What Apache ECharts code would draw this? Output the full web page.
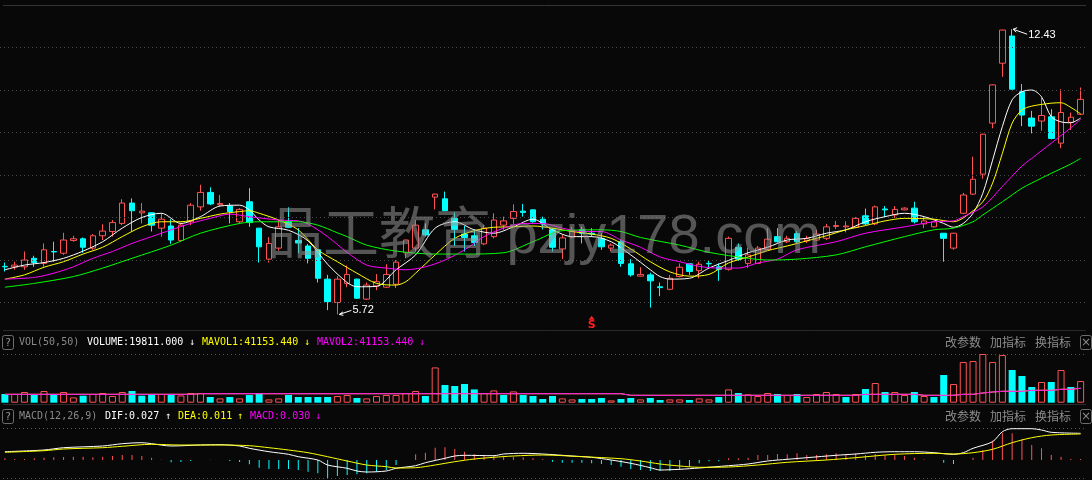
<!DOCTYPE html>
<html><head><meta charset="utf-8">
<script src="https://cdn.jsdelivr.net/npm/echarts@6/dist/echarts.min.js"></script>
<style>html,body{margin:0;padding:0;background:#080808;overflow:hidden}#c{width:1092px;height:480px}</style>
</head><body><div id="c"></div>
<script>
// ---------- data ----------
const open = [6.85,6.84,6.84,7.04,6.92,7.20,7.16,7.46,7.50,7.28,
7.57,7.67,7.86,8.34,8.11,8.11,7.75,7.80,7.46,7.90,
8.25,8.59,8.30,8.27,7.90,8.37,7.75,7.02,7.28,7.90,
7.46,7.33,7.24,6.55,6.00,6.45,6.55,6.08,6.39,6.36,
6.43,7.17,7.28,7.71,8.48,8.44,7.98,7.61,7.57,7.38,
7.55,7.82,7.98,8.15,8.18,7.96,7.71,7.26,7.54,7.71,
7.63,7.51,7.28,7.43,6.91,6.62,6.65,6.37,6.31,6.61,
6.91,6.75,6.92,6.84,6.78,7.30,6.92,6.92,7.25,7.55,
7.43,7.62,7.45,7.47,7.51,7.79,7.78,7.77,8.04,7.85,
8.20,8.06,8.18,8.22,7.85,7.78,7.63,7.28,8.10,8.55,
9.02,10.22,11.63,12.27,10.96,10.34,10.27,10.37,9.75,10.24,10.43];
const close = [6.84,6.88,7.00,6.94,7.24,7.19,7.47,7.50,7.30,7.57,
7.68,7.88,8.34,8.16,8.15,7.82,7.96,7.47,7.82,8.29,
8.59,8.32,8.33,8.14,8.19,7.88,7.31,7.39,7.78,7.77,
7.40,7.04,6.57,6.02,6.55,6.66,6.10,6.41,6.49,6.66,
6.95,7.47,7.82,7.59,8.55,8.16,7.72,7.53,7.41,7.75,
7.94,7.92,8.14,8.12,7.90,7.85,7.30,7.52,7.67,7.63,
7.61,7.31,7.35,6.92,6.65,6.66,6.51,6.35,6.57,6.83,
6.73,6.90,6.91,6.78,7.51,7.02,7.12,7.28,7.49,7.43,
7.51,7.43,7.50,7.61,7.78,7.81,7.80,7.98,7.85,8.25,
8.18,8.19,8.22,7.90,7.92,7.90,7.51,7.63,8.53,8.90,
9.96,11.12,12.41,11.02,10.41,10.15,10.40,9.86,10.47,10.36,10.78];
const low = [6.73,6.77,6.77,6.84,6.84,6.96,7.12,7.43,7.17,7.24,
7.47,7.55,7.82,7.67,7.86,7.67,7.55,7.38,7.43,7.82,
8.16,8.29,8.27,7.86,7.85,7.78,6.94,6.94,7.22,7.76,
7.16,6.92,6.47,5.82,5.72,6.36,6.09,6.06,6.29,6.34,
6.34,7.04,7.20,7.55,8.19,8.15,7.33,7.20,7.33,7.35,
7.51,7.71,7.85,8.02,7.88,7.72,7.20,7.02,7.51,7.39,
7.55,7.24,7.21,6.84,6.61,6.61,5.88,6.15,6.29,6.59,
6.65,6.57,6.81,6.51,6.75,6.98,6.81,6.91,7.24,7.41,
7.40,7.40,7.40,7.45,7.47,7.73,7.65,7.75,7.82,7.82,
8.02,7.99,8.17,7.86,7.75,7.77,6.96,7.24,8.08,8.53,
8.91,10.10,11.31,11.01,10.15,9.98,10.04,9.84,9.63,10.06,10.41];
const high = [6.94,6.96,7.20,7.10,7.39,7.43,7.64,7.57,7.53,7.61,
7.84,7.94,8.43,8.45,8.34,8.12,8.10,7.96,7.86,8.34,
8.77,8.71,8.53,8.34,8.22,8.69,7.75,7.54,7.94,8.24,
7.75,7.38,7.24,6.65,6.62,6.87,6.56,6.47,6.67,6.90,
7.00,7.48,7.94,7.86,8.56,8.61,8.12,7.80,7.72,7.82,
8.10,8.02,8.31,8.32,8.19,8.02,7.75,7.59,7.78,7.78,
7.75,7.63,7.39,7.47,7.02,6.83,6.70,6.47,6.65,6.92,
6.92,6.96,6.98,6.92,7.55,7.39,7.29,7.33,7.75,7.75,
7.57,7.68,7.57,7.71,7.85,7.92,7.91,8.01,8.21,8.28,
8.27,8.27,8.24,8.37,8.02,7.92,7.63,7.64,8.58,9.43,
9.97,11.13,12.42,12.43,11.14,10.51,10.81,10.55,11.02,10.47,11.06];
const volume = [7943,7943,9769,7030,10682,7943,9769,4839,6391,7943,
8856,6117,9769,10682,6391,7943,7943,7943,6665,8856,
8856,5204,3926,5204,3926,7030,8856,3013,3926,7030,
5204,5204,5204,5204,6117,7030,4291,3926,6117,7030,
7030,8856,10682,6117,32229,16160,15247,17073,12143,8856,
11230,7030,10317,7030,6117,3378,6117,3926,3013,3378,
3378,4291,2100,3378,4291,3013,4291,2465,3013,3013,
2465,3926,3013,5204,12143,8856,7578,6117,8856,7943,
7030,7943,5204,7943,9769,7943,5204,7943,12508,17986,
9769,9769,7030,9769,6117,5204,25290,17073,37159,38072,
44463,37159,43550,29855,24377,14334,18899,18899,29855,14334,19811];
// moving averages, read at sample candles: [candle index, value]
const ma5Pts = [[0,6.77],[2,6.88],[4,6.94],[6,7.04],[8,7.21],[10,7.43],[12,7.75],[14,8.00],[16,8.10],[18,7.86],[20,8.02],[22,8.27],[24,8.29],[25,8.18],[26,7.94],[27,7.78],[29,7.70],[31,7.45],[33,6.90],[35,6.47],[36,6.37],[38,6.38],[40,6.77],[42,7.12],[44,7.75],[46,7.90],[48,7.71],[50,7.63],[52,7.78],[54,7.96],[56,7.71],[58,7.55],[60,7.55],[62,7.43],[64,7.12],[66,6.77],[67,6.61],[68,6.55],[70,6.57],[72,6.81],[74,6.99],[76,7.17],[78,7.30],[80,7.47],[82,7.51],[84,7.63],[86,7.71],[88,7.90],[90,8.02],[92,8.10],[94,8.02],[96,7.86],[97,7.77],[98,7.86],[99,8.10],[100,8.57],[101,9.35],[102,10.14],[103,10.77],[104,10.96],[105,11.00],[106,10.84],[107,10.37],[108,10.25],[109,10.23],[110,10.34]];
const ma10Pts = [[0,6.55],[2,6.65],[4,6.83],[6,6.96],[8,7.14],[10,7.30],[12,7.55],[14,7.78],[16,7.90],[18,7.90],[20,7.98],[22,8.08],[24,8.14],[25,8.16],[26,8.10],[28,7.94],[30,7.71],[32,7.24],[34,6.96],[36,6.69],[38,6.45],[40,6.41],[41,6.49],[42,6.69],[44,7.12],[46,7.51],[48,7.69],[50,7.77],[52,7.78],[54,7.80],[56,7.75],[58,7.67],[60,7.61],[62,7.51],[64,7.26],[66,6.96],[68,6.72],[70,6.62],[72,6.66],[74,6.93],[76,7.07],[78,7.22],[80,7.33],[82,7.45],[84,7.57],[86,7.71],[88,7.81],[90,7.92],[92,7.98],[95,7.96],[97,7.90],[98,7.99],[100,8.37],[101,8.81],[102,9.51],[103,10.22],[104,10.53],[105,10.62],[107,10.69],[108,10.70],[109,10.59],[110,10.44]];
const ma20Pts = [[0,6.55],[3,6.59],[5,6.69],[7,6.84],[9,7.04],[11,7.20],[13,7.39],[15,7.55],[17,7.71],[19,7.86],[21,7.98],[23,8.08],[25,8.02],[28,7.94],[30,7.92],[31,7.85],[33,7.55],[35,7.18],[37,6.88],[39,6.81],[41,6.77],[43,6.84],[45,7.00],[47,7.24],[49,7.55],[51,7.75],[53,7.86],[55,7.86],[57,7.75],[59,7.67],[61,7.67],[63,7.47],[65,7.30],[67,7.07],[69,6.96],[71,6.85],[73,6.81],[75,6.81],[77,6.93],[79,7.02],[81,7.24],[85,7.43],[88,7.63],[92,7.78],[95,7.90],[97,7.92],[98,8.02],[100,8.25],[102,8.73],[104,9.21],[105,9.39],[107,9.75],[109,10.11],[110,10.31]];
const ma60Pts = [[0,6.36],[3,6.45],[7,6.61],[10,6.81],[13,7.04],[17,7.35],[20,7.63],[24,7.86],[26,7.90],[29,7.90],[30,7.90],[32,7.82],[34,7.64],[35,7.55],[37,7.35],[40,7.21],[44,7.14],[47,7.14],[51,7.17],[54,7.43],[57,7.69],[61,7.71],[63,7.67],[65,7.53],[69,7.35],[72,7.18],[76,7.04],[78,7.00],[81,7.02],[85,7.12],[88,7.31],[92,7.55],[95,7.71],[97,7.75],[99,7.90],[100,8.06],[102,8.37],[104,8.69],[105,8.81],[107,9.04],[109,9.26],[110,9.39]];
const volMaPts = [[0,7669],[19,7669],[20,8217],[63,8217],[64,6756],[87,6756],[88,7669],[93,7669],[94,6756],[97,6756],[98,7669],[99,7669],[100,8856],[101,9769],[102,10408],[104,10408],[105,11321],[107,11321],[108,12234],[109,12234],[110,13147]];
const difPts = [[0,0.083],[4,0.100],[6,0.123],[10,0.140],[12,0.163],[14,0.173],[15,0.163],[17,0.140],[20,0.150],[22,0.153],[24,0.140],[25,0.117],[27,0.083],[29,0.057],[30,0.033],[32,0.000],[33,-0.050],[35,-0.083],[36,-0.110],[37,-0.120],[39,-0.110],[40,-0.083],[42,-0.057],[43,-0.027],[45,0.017],[46,0.040],[47,0.047],[50,0.043],[51,0.060],[53,0.067],[55,0.060],[58,0.040],[60,0.027],[62,0.000],[64,-0.033],[66,-0.077],[67,-0.100],[69,-0.093],[71,-0.080],[74,-0.057],[76,-0.040],[78,-0.010],[80,0.007],[82,0.023],[85,0.047],[87,0.060],[89,0.077],[91,0.083],[93,0.083],[95,0.073],[97,0.057],[98,0.073],[99,0.117],[101,0.183],[102,0.283],[103,0.313],[105,0.313],[106,0.300],[107,0.277],[110,0.267]];
const deaPts = [[0,0.077],[4,0.093],[6,0.110],[10,0.123],[12,0.137],[15,0.157],[18,0.150],[22,0.150],[25,0.143],[27,0.123],[29,0.100],[31,0.073],[33,0.033],[35,-0.010],[37,-0.050],[39,-0.067],[40,-0.080],[42,-0.077],[44,-0.050],[46,-0.017],[48,0.010],[50,0.027],[52,0.040],[55,0.050],[59,0.033],[63,0.013],[65,-0.010],[67,-0.040],[69,-0.060],[71,-0.073],[74,-0.070],[77,-0.050],[80,-0.023],[84,0.000],[87,0.023],[91,0.057],[95,0.067],[97,0.060],[99,0.073],[101,0.107],[103,0.173],[105,0.223],[107,0.250],[110,0.260]];
const macdHist = [0.017,0.010,0.010,0.017,0.023,0.027,0.030,0.033,0.033,0.027,
0.033,0.040,0.050,0.050,0.040,0.023,0.003,-0.023,-0.020,-0.010,
0,0.003,0,-0.010,-0.020,-0.043,-0.077,-0.090,-0.090,-0.090,
-0.100,-0.117,-0.133,-0.180,-0.160,-0.150,-0.143,-0.133,-0.117,-0.100,
-0.050,0,0.057,0.073,0.123,0.127,0.110,0.083,0.057,0.043,
0.050,0.043,0.033,0.027,0.017,0.007,-0.017,-0.027,-0.027,-0.027,
-0.033,-0.040,-0.050,-0.067,-0.090,-0.100,-0.110,-0.110,-0.110,-0.100,
-0.067,-0.033,-0.013,-0.013,0.017,0.017,0.023,0.050,0.050,0.060,
0.057,0.067,0.050,0.050,0.057,0.067,0.057,0.067,0.050,0.060,
0.050,0.050,0.040,0.023,0.005,0,-0.027,-0.040,0,0.023,
0.100,0.193,0.273,0.267,0.207,0.150,0.117,0.050,0.033,0.010,0.010];
const priceTicks = [6,7,8,9,10,11,12];
const signalIdx = 60, signalPrice = 5.64;
const volHeader = ['VOL(50,50)','VOLUME:19811.000','MAVOL1:41153.440','MAVOL2:41153.440'];
const macdHeader = ['MACD(12,26,9)','DIF:0.027','DEA:0.011','MACD:0.030'];
const tools = ['改参数','加指标','换指标'];
const watermark = '品工教育 pzjy178.com';

// ---------- chart ----------
const RED = '#ff5252', CYAN = '#00ffff', BG = '#080808';
const cats = close.map((_, i) => String(i + 1));
const candleData = open.map((o, i) => [o, close[i], low[i], high[i]]);
const volData = volume.map((v, i) => {
  const up = i === 0 ? close[i] >= open[i] : close[i] >= close[i - 1];
  return { value: v, itemStyle: up ? { color: BG, borderColor: RED, borderWidth: 1 } : { color: CYAN, borderColor: CYAN, borderWidth: 0 } };
});
const histData = macdHist.map(v => ({ value: v, itemStyle: { color: v >= 0 ? RED : CYAN } }));

const chart = echarts.init(document.getElementById('c'), null, { renderer: 'canvas' });
const GL = -1.5, GW = 1087;
const mono = '10px "DejaVu Sans Mono"';
function T(x, y, text, fill, font, extra) {
  return Object.assign({ type: 'text', x: x, y: y, z: 50, silent: true,
    style: { text: text, fill: fill, font: font || mono, textVerticalAlign: 'middle', verticalAlign: 'middle' } }, extra || {});
}
function hline(y, stroke, dash) {
  return { type: 'line', silent: true, z: 1, shape: { x1: 3, y1: y, x2: 1086, y2: y }, style: { stroke: stroke, lineWidth: 1, lineDash: dash || null } };
}
function box(x, y, w, h) {
  return { type: 'rect', silent: true, z: 50, shape: { x: x, y: y, width: w, height: h, r: 2 }, style: { fill: 'none', stroke: '#6e6e6e', lineWidth: 1 } };
}
function ctext(x, y, text, fill, font) {
  return { type: 'text', x: x, y: y, silent: true, z: 50, style: { text: text, fill: fill, font: font, textAlign: 'center', align: 'center', textVerticalAlign: 'middle', verticalAlign: 'middle' } };
}
const cjk = '12px "Noto Sans CJK SC"';
const graphics = [
  hline(5.5, '#333333'),
  hline(330.5, '#2a2a2a'),
  hline(404.5, '#2a2a2a'),
  hline(354.5, '#555555', [1, 3]),
  hline(428.5, '#555555', [1, 3]),
  hline(478.5, '#555555', [1, 3]),
  box(2.5, 335.5, 11, 14), ctext(8, 343, '?', '#9a9a9a', mono),
  box(2.5, 409.5, 11, 14), ctext(8, 417, '?', '#9a9a9a', mono),
  T(19, 342.5, volHeader[0], '#8a8a8a'),
  T(87, 342.5, volHeader[1], '#ffffff'), T(189, 342.5, '↓', '#ffffff'),
  T(202, 342.5, volHeader[2], '#ffff00'), T(304, 342.5, '↓', '#ffff00'),
  T(317, 342.5, volHeader[3], '#ff00ff'), T(419, 342.5, '↓', '#ff00ff'),
  T(19, 416, macdHeader[0], '#8a8a8a'),
  T(105, 416, macdHeader[1], '#ffffff'), T(165, 416, '↑', '#ffffff'),
  T(178, 416, macdHeader[2], '#ffff00'), T(237, 416, '↑', '#ffff00'),
  T(250, 416, macdHeader[3], '#ff00ff'), T(315, 416, '↓', '#ff00ff'),
  T(945, 342.5, tools[0], '#8c8c8c', cjk), T(990, 342.5, tools[1], '#8c8c8c', cjk), T(1035, 342.5, tools[2], '#8c8c8c', cjk),
  T(945, 416.5, tools[0], '#8c8c8c', cjk), T(990, 416.5, tools[1], '#8c8c8c', cjk), T(1035, 416.5, tools[2], '#8c8c8c', cjk),
  box(1080.5, 335.5, 11, 14), box(1080.5, 409.5, 11, 14),
  ctext(1086, 342.5, '×', '#8c8c8c', '12px "DejaVu Sans"'),
  ctext(1086, 416.5, '×', '#8c8c8c', '12px "DejaVu Sans"'),
  { type: 'text', x: 267, y: 238, silent: true, z: 200, style: { text: watermark, fill: 'rgba(150,150,150,0.55)', font: '56px "Liberation Sans", "Noto Sans CJK SC"', textVerticalAlign: 'middle', verticalAlign: 'middle' } }
];

function maLine(name, pts, color, xi) {
  return { name: name, type: 'line', xAxisIndex: xi || 0, yAxisIndex: xi || 0, data: pts, showSymbol: false, symbol: 'none',
    smooth: 0.3, lineStyle: { color: color, width: 1 }, itemStyle: { color: color }, z: 5, silent: true };
}

const option = {
  backgroundColor: BG,
  animation: false,
  grid: [
    { left: GL, width: GW, top: 5, height: 325 },
    { left: GL, width: GW, top: 354, height: 48.7 },
    { left: GL, width: GW, top: 428, height: 50 }
  ],
  xAxis: [0, 1, 2].map(g => ({ type: 'category', gridIndex: g, data: cats, show: false, boundaryGap: true })),
  yAxis: [
    { gridIndex: 0, min: 5.353, max: 13, show: false },
    { gridIndex: 1, min: 0, max: 44500, show: false },
    { gridIndex: 2, min: -0.18, max: 0.32, show: false }
  ],
  series: [
    { type: 'candlestick', xAxisIndex: 0, yAxisIndex: 0, data: candleData, barWidth: 6, z: 3,
      itemStyle: { color: BG, color0: CYAN, borderColor: RED, borderColor0: CYAN, borderWidth: 1 },
      markLine: { silent: true, symbol: 'none', label: { show: false }, animation: false,
        lineStyle: { color: '#4a4a4a', type: [1, 3], width: 1 },
        data: priceTicks.map(v => ({ yAxis: v })) },
      markPoint: { silent: true, animation: false, data: [
        { coord: [signalIdx, signalPrice], symbol: 'triangle', symbolSize: [6, 4], itemStyle: { color: '#ff2020' },
          label: { show: true, formatter: 'S', position: 'bottom', distance: 0, color: '#ff2020', fontSize: 11, fontWeight: 'bold', fontFamily: 'DejaVu Sans' } }
      ] }
    },
    maLine('MA5', ma5Pts, '#ffffff'),
    maLine('MA10', ma10Pts, '#ffff00'),
    maLine('MA20', ma20Pts, '#ff00ff'),
    maLine('MA60', ma60Pts, '#00ff00'),
    { type: 'bar', xAxisIndex: 1, yAxisIndex: 1, data: volData, barWidth: 7, z: 3, silent: true },
    { type: 'line', xAxisIndex: 1, yAxisIndex: 1, data: volMaPts, showSymbol: false, symbol: 'none', lineStyle: { color: '#ffff00', width: 1 }, z: 4, silent: true },
    { type: 'line', xAxisIndex: 1, yAxisIndex: 1, data: volMaPts, showSymbol: false, symbol: 'none', lineStyle: { color: '#ff00ff', width: 1 }, z: 5, silent: true },
    { type: 'bar', xAxisIndex: 2, yAxisIndex: 2, data: histData, barWidth: 1, z: 3, silent: true },
    maLine('DIF', difPts, '#ffffff', 2),
    maLine('DEA', deaPts, '#ffff00', 2)
  ],
  graphic: { elements: graphics }
};
chart.setOption(option);

// high / low annotations placed through the axis scales
const hiVal = Math.max.apply(null, high), loVal = Math.min.apply(null, low);
const hiIdx = high.indexOf(hiVal), loIdx = low.indexOf(loVal);
const ph = chart.convertToPixel({ gridIndex: 0 }, [hiIdx, hiVal]);
const pl = chart.convertToPixel({ gridIndex: 0 }, [loIdx, loVal]);
const W = '#ffffff';
const ann = [
  { type: 'line', silent: true, z: 60, shape: { x1: ph[0] + 1, y1: ph[1], x2: ph[0] + 15, y2: ph[1] + 5 }, style: { stroke: W, lineWidth: 1 } },
  { type: 'polyline', silent: true, z: 60, shape: { points: [[ph[0] + 5, ph[1] - 1.5], [ph[0] + 1, ph[1]], [ph[0] + 4, ph[1] + 3]] }, style: { stroke: W, lineWidth: 1, fill: 'none' } },
  { type: 'text', silent: true, z: 60, x: ph[0] + 16, y: ph[1] + 5.5, style: { text: hiVal.toFixed(2), fill: W, font: '11px "Liberation Sans"', textVerticalAlign: 'middle', verticalAlign: 'middle' } },
  { type: 'line', silent: true, z: 60, shape: { x1: pl[0] + 2, y1: pl[1], x2: pl[0] + 14, y2: pl[1] - 4 }, style: { stroke: W, lineWidth: 1 } },
  { type: 'polyline', silent: true, z: 60, shape: { points: [[pl[0] + 5.5, pl[1] - 2.5], [pl[0] + 2, pl[1]], [pl[0] + 6, pl[1] + 1]] }, style: { stroke: W, lineWidth: 1, fill: 'none' } },
  { type: 'text', silent: true, z: 60, x: pl[0] + 15, y: pl[1] - 4, style: { text: loVal.toFixed(2), fill: W, font: '11px "Liberation Sans"', textVerticalAlign: 'middle', verticalAlign: 'middle' } }
];
chart.setOption({ graphic: { elements: graphics.concat(ann) } });
</script></body></html>
